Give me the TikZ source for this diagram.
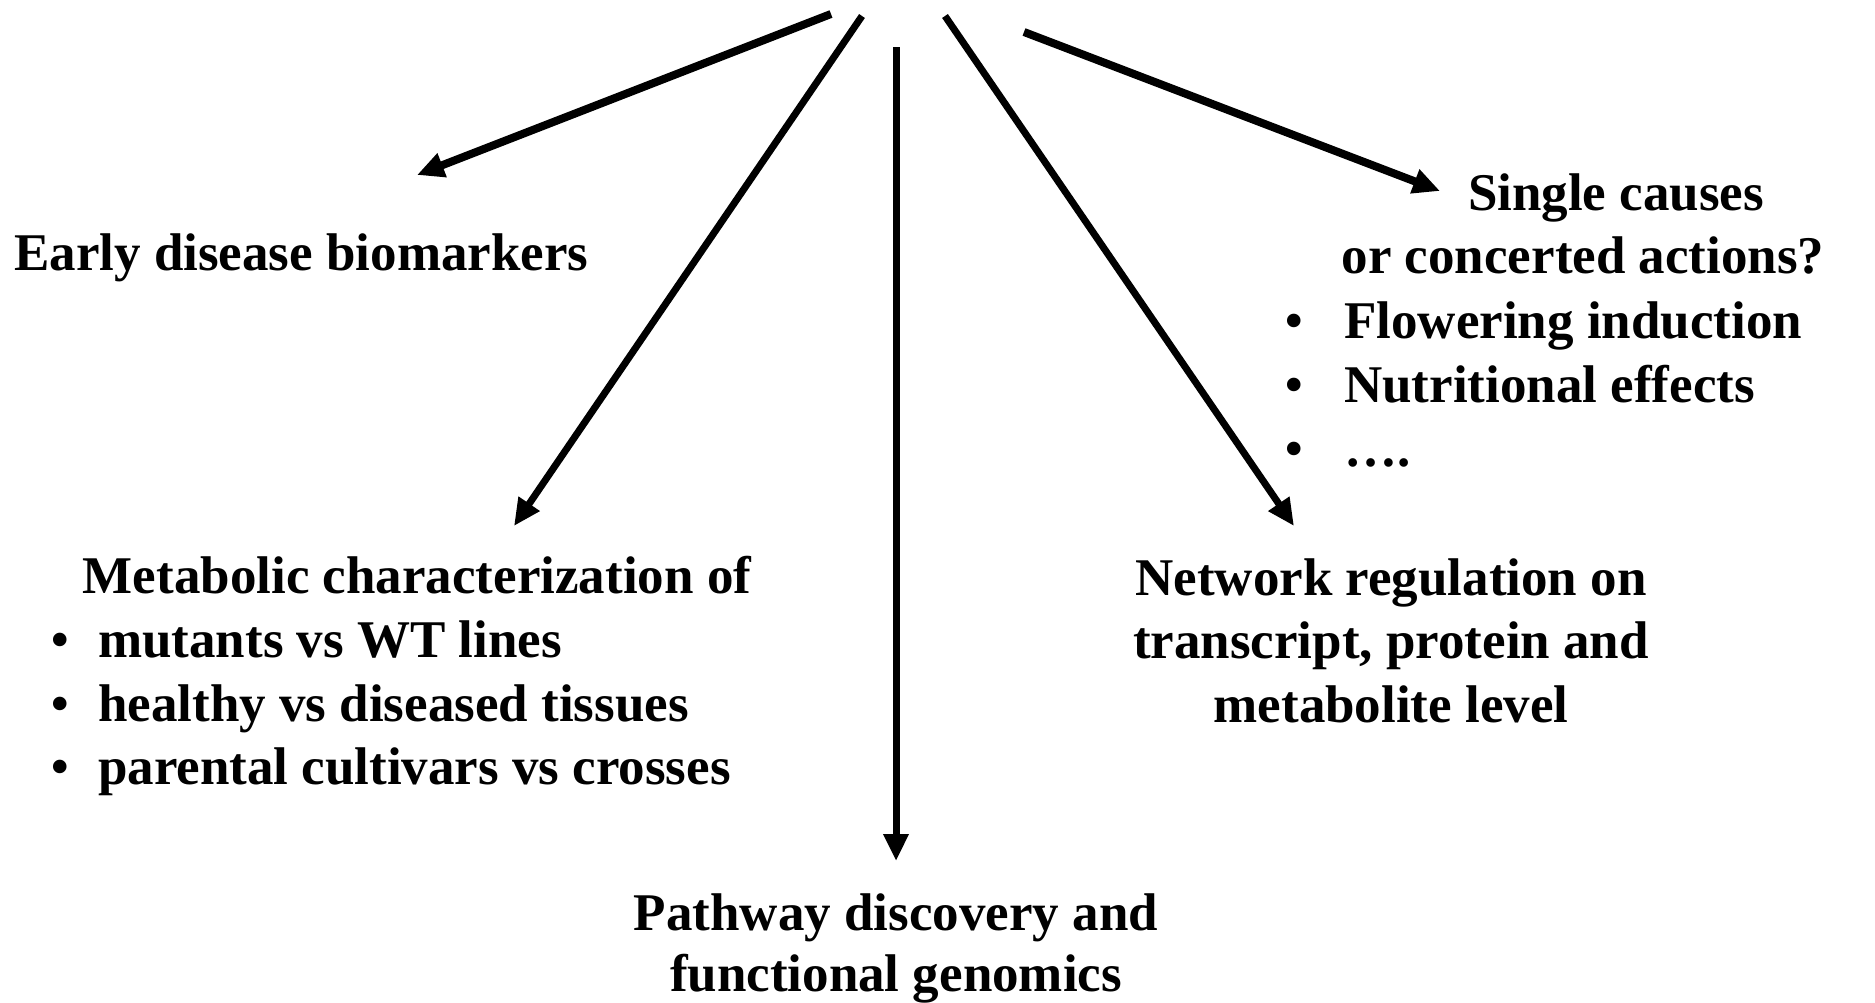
\documentclass[tikz,border=0pt]{standalone}
\usepackage{fontspec}
\setmainfont{Liberation Serif}
\usetikzlibrary{arrows.meta}
\begin{document}
\begin{tikzpicture}[x=1pt,y=-1pt,
  lbl/.style={inner sep=0pt, font=\fontsize{53pt}{64pt}\selectfont\bfseries},
  bul/.style={inner sep=0pt, anchor=base west, font=\fontsize{50pt}{50pt}\selectfont\bfseries},
  arr/.style={line width=7pt, -{Triangle[length=27pt,width=24pt]}},
  arrthick/.style={arr, line width=8pt}]
\useasboundingbox (0,0) rectangle (1875,1002);
\fill[white] (0,0) rectangle (1875,1002);

% start points of the fan of arrows
\coordinate (s1) at (831,14);
\coordinate (s2) at (862,16);
\coordinate (s3) at (896,47);
\coordinate (s4) at (945,16);
\coordinate (s5) at (1024,32);
% arrow tips
\coordinate (t1) at (417,175);
\coordinate (t2) at (514,526);
\coordinate (t3) at (896,861);
\coordinate (t4) at (1294,526);
\coordinate (t5) at (1440,191);

% left: biomarkers
\node[lbl, anchor=base west] (early) at (14,270) {Early disease biomarkers};

% left lower: metabolic characterization
\node[lbl, anchor=base] (met) at (417,593) {Metabolic characterization of};
\node[bul] (m1b) at (51,656) {•};
\node[lbl, anchor=base west] (m1) at (98,657) {mutants vs WT lines};
\node[bul] (m2b) at (51,720) {•};
\node[lbl, anchor=base west] (m2) at (98,721) {healthy vs diseased tissues};
\node[bul] (m3b) at (51,783) {•};
\node[lbl, anchor=base west] (m3) at (98,784) {parental cultivars vs crosses};

% bottom: pathway discovery
\node[lbl, anchor=base] (path1) at (896,930) {Pathway discovery and};
\node[lbl, anchor=base] (path2) at (896,991) {functional genomics};

% right lower: network regulation
\node[lbl, anchor=base] (net1) at (1391,595) {Network regulation on};
\node[lbl, anchor=base] (net2) at (1391,658) {transcript, protein and};
\node[lbl, anchor=base] (net3) at (1391,722) {metabolite level};

% right upper: single causes
\node[lbl, anchor=base] (sc1) at (1616,210) {Single causes};
\node[lbl, anchor=base] (sc2) at (1583,273) {or concerted actions?};
\node[bul] (f1b) at (1285,337) {•};
\node[lbl, anchor=base west] (f1) at (1344,338) {Flowering induction};
\node[bul] (f2b) at (1285,401) {•};
\node[lbl, anchor=base west] (f2) at (1344,402) {Nutritional effects};
\node[bul] (f3b) at (1285,465) {•};
\node[lbl, anchor=base west] (f3) at (1344,466) {….};

% arrows
\draw[arrthick] (s1) -- (t1);
\draw[arr] (s2) -- (t2);
\draw[arr] (s3) -- (t3);
\draw[arr] (s4) -- (t4);
\draw[arrthick] (s5) -- (t5);
\end{tikzpicture}
\end{document}
